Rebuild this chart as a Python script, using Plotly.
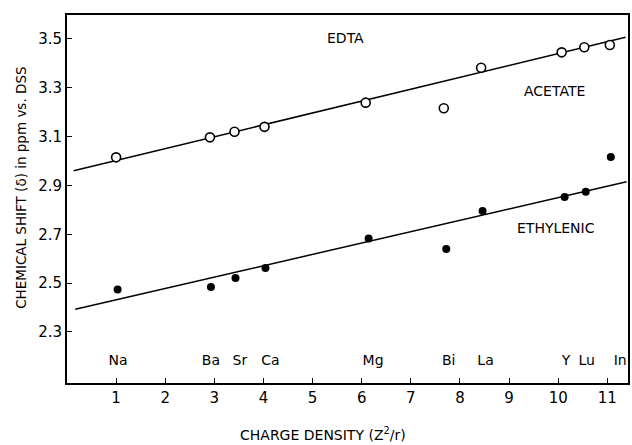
import plotly.graph_objects as go

# Data
elements = ["Na", "Ba", "Sr", "Ca", "Mg", "Bi", "La", "Y", "Lu", "In"]
label_x = [1.04, 2.93, 3.52, 4.14, 6.23, 7.77, 8.52, 10.16, 10.58, 11.26]
label_y = 2.18

acetate_x = [1.0, 2.91, 3.41, 4.02, 6.08, 7.67, 8.43, 10.07, 10.53, 11.05]
acetate_y = [3.015, 3.097, 3.12, 3.14, 3.239, 3.216, 3.382, 3.445, 3.466, 3.475]

ethyl_x = [1.03, 2.93, 3.43, 4.04, 6.14, 7.72, 8.46, 10.13, 10.56, 11.07]
ethyl_y = [2.474, 2.484, 2.521, 2.562, 2.683, 2.640, 2.795, 2.853, 2.874, 3.017]

acetate_fit_x = [0.135, 11.37]
acetate_fit_y = [2.96, 3.507]
ethyl_fit_x = [0.168, 11.39]
ethyl_fit_y = [2.393, 2.915]

x_ticks = [1, 2, 3, 4, 5, 6, 7, 8, 9, 10, 11]
y_ticks = [2.3, 2.5, 2.7, 2.9, 3.1, 3.3, 3.5]
y_tick_text = ["2.3", "2.5", "2.7", "2.9", "3.1", "3.3", "3.5"]

FONT = "DejaVu Sans"

fig = go.Figure()
fig.add_trace(go.Scatter(x=acetate_fit_x, y=acetate_fit_y, mode="lines",
                         line=dict(color="black", width=1.5), showlegend=False))
fig.add_trace(go.Scatter(x=ethyl_fit_x, y=ethyl_fit_y, mode="lines",
                         line=dict(color="black", width=1.5), showlegend=False))
fig.add_trace(go.Scatter(x=acetate_x, y=acetate_y, mode="markers",
                         marker=dict(symbol="circle", size=9, color="white",
                                     line=dict(color="black", width=1.6)),
                         showlegend=False))
fig.add_trace(go.Scatter(x=ethyl_x, y=ethyl_y, mode="markers",
                         marker=dict(symbol="circle", size=8, color="black"),
                         showlegend=False))

fig.add_trace(go.Scatter(x=label_x, y=[label_y] * len(elements), mode="text",
                         text=elements, textfont=dict(family=FONT, size=14, color="black"),
                         showlegend=False))

annotations = [
    dict(x=5.67, y=3.503, xref="x", yref="y", text="EDTA", showarrow=False,
         font=dict(family=FONT, size=14, color="black")),
    dict(x=9.92, y=3.288, xref="x", yref="y", text="ACETATE", showarrow=False,
         font=dict(family=FONT, size=14, color="black")),
    dict(x=9.96, y=2.724, xref="x", yref="y", text="ETHYLENIC", showarrow=False,
         font=dict(family=FONT, size=14, color="black")),
    dict(x=0.456, y=-0.168, xref="paper", yref="paper",
         text="CHARGE DENSITY (Z<sup>2</sup>/r)", showarrow=False,
         font=dict(family=FONT, size=14, color="black")),
    dict(x=-0.1, y=0.53, xref="paper", yref="paper", textangle=-90,
         text="CHEMICAL SHIFT (δ) in ppm vs. DSS", showarrow=False,
         font=dict(family=FONT, size=13.5, color="black")),
]

fig.update_layout(
    width=632, height=445,
    margin=dict(l=67, r=2, t=15, b=62),
    paper_bgcolor="white", plot_bgcolor="white",
    annotations=annotations,
    xaxis=dict(range=[0, 11.42], tickvals=x_ticks, ticks="inside", ticklen=5,
               tickwidth=1.2, tickcolor="black", showline=True, linewidth=2,
               linecolor="black", mirror=True, showgrid=False, zeroline=False,
               tickfont=dict(family=FONT, size=15, color="black")),
    yaxis=dict(range=[2.091, 3.598], tickvals=y_ticks, ticktext=y_tick_text,
               ticks="inside", ticklen=5, tickwidth=1.2, tickcolor="black",
               showline=True, linewidth=2, linecolor="black", mirror=True,
               showgrid=False, zeroline=False,
               tickfont=dict(family=FONT, size=15, color="black")),
)

fig.write_html("out.html")
